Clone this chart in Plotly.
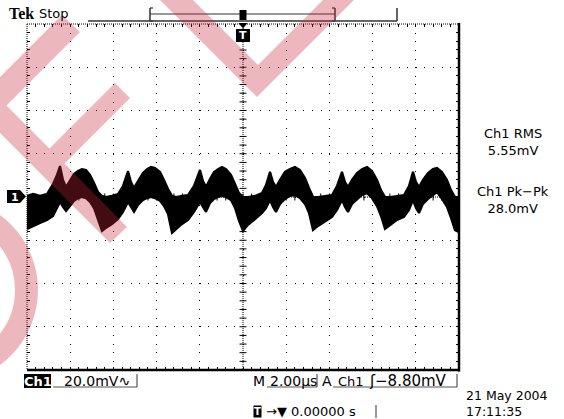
import numpy as np
import plotly.graph_objects as go

# Channel 1 capture: 2.00 us/div horizontal, 20.0 mV/div vertical
t_us = [-10.000, -9.722, -9.398, -9.074, -8.796, -8.611, -8.472, -8.333, -8.194, -8.009,
        -7.824, -7.639, -7.454, -7.269, -7.083, -6.898, -6.713, -6.528, -6.343, -6.065,
        -5.787, -5.556, -5.324, -5.185, -5.046, -4.861, -4.630, -4.444, -4.259, -4.074,
        -3.843, -3.657, -3.472, -3.287, -3.102, -2.824, -2.546, -2.269, -1.991, -1.852,
        -1.713, -1.528, -1.343, -1.157, -0.972, -0.787, -0.556, -0.370, -0.185, 0.000,
        0.231, 0.556, 0.880, 1.065, 1.250, 1.389, 1.528, 1.713, 1.944, 2.176,
        2.407, 2.639, 2.870, 3.056, 3.241, 3.472, 3.796, 4.120, 4.352, 4.583,
        4.722, 4.861, 5.046, 5.278, 5.509, 5.741, 5.972, 6.204, 6.389, 6.574,
        6.806, 7.130, 7.454, 7.685, 7.870, 8.009, 8.148, 8.333, 8.565, 8.796,
        8.981, 9.213, 9.444, 9.630, 9.815, 10.000]

# upper / lower edge of the noisy trace envelope (mV)
ch1_upper_mV = [0.5, 1.4, 0.5, 1.4, 6.0, 10.2, 14.3, 7.9, 4.6, 7.9,
                10.6, 12.0, 12.9, 12.5, 10.2, 6.5, 2.3, 0.5, 0.0, 0.5,
                1.4, 5.1, 12.0, 6.9, 4.2, 7.4, 11.1, 12.9, 13.9, 13.4,
                11.6, 7.9, 3.7, 0.5, 0.0, 0.5, 0.9, 5.1, 12.5, 7.4,
                4.6, 8.3, 11.6, 12.9, 13.9, 12.9, 10.2, 6.0, 1.8, 0.0,
                0.0, 0.5, 1.8, 5.5, 11.6, 6.9, 4.6, 7.9, 11.6, 12.9,
                13.9, 12.5, 8.8, 4.2, 0.0, 0.0, 0.5, 0.9, 5.1, 11.6,
                6.9, 4.6, 7.9, 11.1, 12.9, 13.9, 12.0, 7.9, 3.2, 0.0,
                0.0, 0.5, 0.9, 5.1, 11.6, 6.9, 4.6, 7.9, 11.1, 12.9,
                13.4, 11.6, 7.9, 3.2, 0.0, 0.0]
ch1_lower_mV = [-14.8, -13.4, -12.0, -10.6, -8.8, -5.1, -2.3, -4.6, -6.5, -4.2,
                -1.8, -0.5, 0.0, -0.5, -2.3, -5.1, -10.6, -15.7, -14.3, -12.5,
                -10.2, -6.9, -2.3, -4.6, -6.9, -3.7, -1.4, -0.5, 0.0, -0.5,
                -1.8, -4.2, -7.9, -16.6, -14.8, -12.5, -10.6, -6.9, -2.3, -4.6,
                -6.9, -2.8, -0.9, 0.0, 0.5, 0.0, -1.4, -5.1, -11.1, -15.7,
                -12.9, -10.2, -7.4, -5.1, -1.4, -4.6, -6.9, -3.2, -0.9, 0.5,
                0.9, -0.5, -3.2, -7.4, -15.3, -13.4, -11.1, -9.2, -6.0, -1.4,
                -4.6, -6.9, -3.2, -0.9, 0.9, 1.8, -0.5, -4.2, -8.8, -14.8,
                -12.9, -10.6, -9.2, -6.0, -1.4, -5.1, -7.4, -3.2, -0.9, 0.9,
                2.3, -0.9, -4.6, -9.7, -15.3, -16.2]

# scope readouts
ch1_rms = "5.55mV"
ch1_pkpk = "28.0mV"
volts_div = "20.0mV"
time_div = "2.00µs"
trig_level = "−8.80mV"
trig_pos = "0.00000 s"
date_str = "21 May 2004"
time_str = "17:11:35"

T_RANGE = [-10, 10]
V_RANGE = [-80, 80]

W, H = 564, 419
GL, GR, GT, GB = 27, 459, 24, 370   # graticule edges in screen pixels


def fx(x):
    return (x - GL) / (GR - GL)


def fy(y):
    return (GB - y) / (GB - GT)


def poly(points):
    return "M " + " L ".join(f"{fx(x):.5f},{fy(y):.5f}" for x, y in points) + " Z"


fig = go.Figure()

# trace envelope (a wide edge stroke stands in for the noise fuzz)
fig.add_trace(go.Scatter(x=t_us, y=ch1_lower_mV, mode="lines",
                         line=dict(color="black", width=2.2),
                         hoverinfo="skip", showlegend=False))
fig.add_trace(go.Scatter(x=t_us, y=ch1_upper_mV, mode="lines",
                         line=dict(color="black", width=2.2),
                         fill="tonexty", fillcolor="black",
                         hoverinfo="skip", showlegend=False))

# minor ticks along the centre cross
cx_ticks = [v for v in np.arange(-10, 10.001, 0.4) if abs(v) < 9.99]
cy_ticks = [v for v in np.arange(-80, 80.001, 4) if abs(v) < 79.9]
fig.add_trace(go.Scatter(x=cx_ticks, y=[0] * len(cx_ticks), mode="markers",
                         marker=dict(symbol="line-ns", size=5,
                                     line=dict(width=1, color="black")),
                         hoverinfo="skip", showlegend=False))
fig.add_trace(go.Scatter(x=[0] * len(cy_ticks), y=cy_ticks, mode="markers",
                         marker=dict(symbol="line-ew", size=5,
                                     line=dict(width=1, color="black")),
                         hoverinfo="skip", showlegend=False))

axis_common = dict(showgrid=True, gridcolor="black", gridwidth=1,
                   griddash="1px,7.64px", ticks="inside", ticklen=3,
                   tickcolor="black", tickwidth=1, showticklabels=False,
                   zeroline=False, showline=False, mirror="ticks", fixedrange=True)
fig.update_xaxes(range=T_RANGE, dtick=2, tick0=0,
                 minor=dict(dtick=0.4, ticks="inside", ticklen=3,
                            tickcolor="black", showgrid=False), **axis_common)
fig.update_yaxes(range=V_RANGE, dtick=20, tick0=0,
                 minor=dict(dtick=4, ticks="inside", ticklen=3,
                            tickcolor="black", showgrid=False), **axis_common)

shapes = []
# graticule border and centre cross
for (x0, y0, x1, y1, w, dash) in [
        (GL, GT, GL, GB, 1, "1px,1px"), (GL, GT, GR, GT, 1, "1px,1px"),
        (GR, GT - 1, GR, GB + 1.5, 2.5, "solid"), (GL, GB, GR + 1, GB, 2.5, "solid"),
        (243, GT, 243, GB, 1, "1px,1px"), (GL, 197, GR, 197, 1, "1px,1px")]:
    shapes.append(dict(type="line", xref="paper", yref="paper",
                       x0=fx(x0), y0=fy(y0), x1=fx(x1), y1=fy(y1),
                       line=dict(color="black", width=w, dash=dash), layer="below"))

# record bar at the top
for (x0, y0, x1, y1, c, w) in [
        (88, 21, 397, 21, "#333", 1.5), (397, 8, 397, 21, "#333", 1.5),
        (150, 14, 335, 14, "#333", 1.2), (150, 8, 150, 21, "#333", 1.5),
        (335, 8, 335, 21, "#333", 1.5), (150, 8, 153, 8, "#333", 1.2),
        (150, 21, 153, 21, "#333", 1.2), (332, 8, 335, 8, "#333", 1.2),
        (332, 21, 335, 21, "#333", 1.2)]:
    shapes.append(dict(type="line", xref="paper", yref="paper",
                       x0=fx(x0), y0=fy(y0), x1=fx(x1), y1=fy(y1),
                       line=dict(color=c, width=w)))

# trigger markers
shapes.append(dict(type="rect", xref="paper", yref="paper",
                   x0=fx(239.5), y0=fy(20), x1=fx(246.5), y1=fy(10),
                   fillcolor="black", line=dict(width=0)))
shapes.append(dict(type="path", xref="paper", yref="paper",
                   path=poly([(238.5, 23), (247.5, 23), (243, 28.5)]),
                   fillcolor="black", line=dict(width=0)))
shapes.append(dict(type="rect", xref="paper", yref="paper",
                   x0=fx(236), y0=fy(42), x1=fx(250), y1=fy(29),
                   fillcolor="black", line=dict(width=0)))
# channel 1 ground marker
shapes.append(dict(type="path", xref="paper", yref="paper",
                   path=poly([(7, 190), (20, 190), (26, 196.5), (20, 203), (7, 203)]),
                   fillcolor="black", line=dict(width=0)))

# bottom readout boxes
shapes.append(dict(type="rect", xref="paper", yref="paper",
                   x0=fx(24), y0=fy(388), x1=fx(51), y1=fy(374),
                   fillcolor="black", line=dict(width=0)))
for (x0, y0, x1, y1) in [(53, 387, 137, 387), (137, 374, 137, 387),
                         (267, 387, 317, 387), (317, 374, 317, 387),
                         (333, 387, 457, 387), (457, 374, 457, 387),
                         (376, 405, 376, 418)]:
    shapes.append(dict(type="line", xref="paper", yref="paper",
                       x0=fx(x0), y0=fy(y0), x1=fx(x1), y1=fy(y1),
                       line=dict(color="#555", width=1.2)))

# pink watermark
wm = "rgba(200,40,55,0.33)"
shapes.append(dict(type="path", xref="paper", yref="paper",
                   path=poly([(62, 15), (80, 32), (6.5, 105.5), (49.5, 148.5), (115, 83),
                              (130, 98), (64.5, 163.5), (127, 227), (110, 243), (-28, 105)]),
                   fillcolor=wm, line=dict(width=0), layer="above"))
shapes.append(dict(type="path", xref="paper", yref="paper",
                   path=poly([(155, -5), (257, 97), (359, -5), (328, -5), (258, 65), (188, -5)]),
                   fillcolor=wm, line=dict(width=0), layer="above"))
rc, rr = (-55, 290), 81.5
shapes.append(dict(type="circle", xref="paper", yref="paper",
                   x0=fx(rc[0] - rr), x1=fx(rc[0] + rr), y0=fy(rc[1] + rr), y1=fy(rc[1] - rr),
                   line=dict(color=wm, width=23), fillcolor="rgba(0,0,0,0)", layer="above"))

SANS = "DejaVu Sans"


def label(x, y, text, size=14, color="black", xanchor="left", family=SANS, bold=False):
    if bold:
        text = f"<b>{text}</b>"
    return dict(x=fx(x), y=fy(y), xref="paper", yref="paper", text=text,
                showarrow=False, xanchor=xanchor, yanchor="middle",
                font=dict(family=family, size=size, color=color))


annotations = [
    label(7, 13, "Tek", size=16, family="Liberation Serif", bold=True),
    label(37, 13, "Stop", size=13),
    label(243, 36, "T", size=11, color="white", xanchor="center", bold=True),
    label(15, 197, "1", size=11, color="white", xanchor="center", bold=True),
    label(513, 142, "Ch1 RMS<br>" + ch1_rms, size=13, xanchor="center"),
    label(513, 200, "Ch1 Pk−Pk<br>" + ch1_pkpk, size=13, xanchor="center"),
    label(37.5, 381, "Ch1", size=13, color="white", xanchor="center", bold=True),
    label(62, 381, volts_div + "∿", size=14),
    label(251, 381, "M", size=14),
    label(268, 381, time_div, size=14),
    label(320, 381, "A", size=14),
    label(336, 381, "Ch1", size=13),
    label(367, 381, "ʃ" + trig_level, size=15),
    label(464, 403, date_str + "<br>" + time_str, size=12.5),
    label(253, 411, "<b>T</b>", size=10, color="white"),
    label(264, 411, "→▼ " + trig_pos, size=13),
]
annotations[-2]["bgcolor"] = "black"
annotations[-2]["borderpad"] = 0
annotations[-3]["align"] = "left"

fig.update_layout(width=W, height=H, autosize=False,
                  margin=dict(l=GL, r=W - GR, t=GT, b=H - GB, pad=0),
                  paper_bgcolor="white", plot_bgcolor="white",
                  shapes=shapes, annotations=annotations, showlegend=False)

fig.write_html("out.html", config={"displayModeBar": False})
